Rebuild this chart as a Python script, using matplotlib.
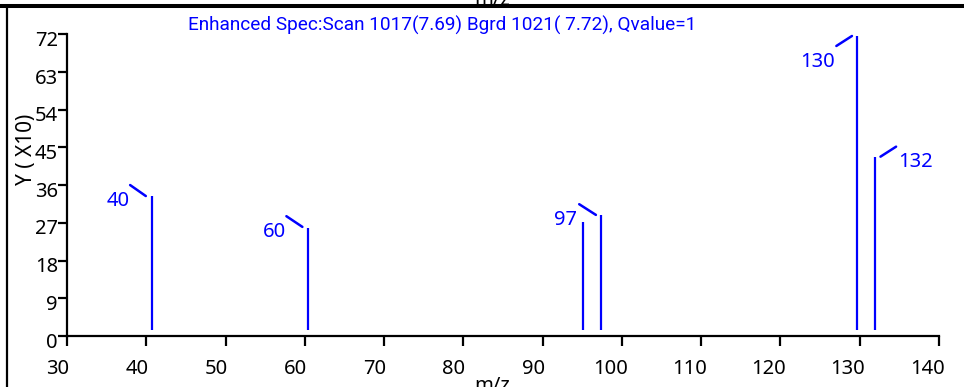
import matplotlib
matplotlib.use('Agg')
import matplotlib.pyplot as plt
import matplotlib.transforms as mtransforms
from matplotlib.lines import Line2D

# ---- data ----
mz = [40.7, 60.4, 95.1, 97.3, 129.7, 131.9]
intensity = [33.4, 25.8, 27.3, 28.9, 71.6, 42.8]
floor_level = 1.4
label_mz = [40.7, 60.4, 97.3, 129.7, 131.9]
label_int = [33.4, 25.8, 28.9, 71.6, 42.8]
label_text = ['40', '60', '97', '130', '132']
xticks = [30, 40, 50, 60, 70, 80, 90, 100, 110, 120, 130, 140]
yticks = [0, 9, 18, 27, 36, 45, 54, 63, 72]
title_text = "Enhanced Spec:Scan 1017(7.69) Bgrd 1021( 7.72), Qvalue=1"
ylabel_text = "Y ( X10)"
xlabel_text = "m/z"

# ---- style ----
BLUE = '#0000ff'
FS = 14.5
TICKFONT = 'Noto Sans'
TITLEFONT = 'Roboto'
# leader start, leader end, text position (pixel offsets from peak top, y up), alignment
label_style = [
    ((-6, 0), (-21.7, 11), (-22.5, -10), 'right'),
    ((-5.6, 1), (-21.6, 11.7), (-22.3, -9.6), 'right'),
    ((-4.6, 0), (-21.3, 10.7), (-23.3, -10), 'right'),
    ((-5.4, 0), (-21, -10), (-22.7, -31), 'right'),
    ((5.7, 0), (21.3, 10), (23, -10.6), 'left'),
]

W, H = 964, 387
fig = plt.figure(figsize=(W / 100, H / 100), dpi=100)
ax = fig.add_axes([67 / W, 51 / H, 872 / W, 301.7 / H])

ax.vlines(mz, floor_level, intensity, colors=BLUE, lw=1.6)

ax.set_xlim(30, 140)
ax.set_ylim(0, 72)
ax.set_xticks(xticks)
ax.set_yticks(yticks)
ax.set_xticklabels([str(v) for v in xticks], family=TICKFONT, fontsize=FS)
ax.set_yticklabels([str(v) for v in yticks], family=TICKFONT, fontsize=FS)
for s in ['top', 'right']:
    ax.spines[s].set_visible(False)
for s in ['left', 'bottom']:
    ax.spines[s].set_linewidth(1.6)
    ax.spines[s].set_color('black')
ax.tick_params(axis='x', direction='out', length=7.5, width=1.6, pad=9, colors='black')
ax.tick_params(axis='y', direction='out', length=6.5, width=1.6, pad=0, colors='black')

for lab in ax.get_xticklabels():
    dx = -9.5 if len(lab.get_text()) == 2 else -11.7
    lab.set_transform(lab.get_transform() + mtransforms.ScaledTranslation(dx / 100, 0, fig.dpi_scale_trans))
for lab in ax.get_yticklabels():
    lab.set_transform(lab.get_transform() + mtransforms.ScaledTranslation(0, -4 / 100, fig.dpi_scale_trans))

# peak labels with leader lines
for x, y, t, (st, en, tp, ha) in zip(label_mz, label_int, label_text, label_style):
    tr = mtransforms.offset_copy(ax.transData, fig=fig, x=st[0], y=st[1], units='dots')
    ax.annotate('', xy=(x, y), xycoords=tr, xytext=(en[0] - st[0], en[1] - st[1]),
                textcoords='offset pixels',
                arrowprops=dict(arrowstyle='-', color=BLUE, lw=1.8, shrinkA=0, shrinkB=0))
    ax.annotate(t, xy=(x, y), xytext=tp, textcoords='offset pixels', ha=ha, va='baseline',
                color=BLUE, fontsize=FS, family=TICKFONT)

# title and axis labels
fig.text(442.5 / W, (H - 30.7) / H, title_text, ha='center', va='baseline', color=BLUE,
         fontsize=13.7, family=TITLEFONT)
fig.text(26.5 / W, (H - 149) / H, ylabel_text, rotation=90, ha='center', va='center',
         color='black', fontsize=15, family=TICKFONT)
fig.text(492 / W, (H - 390.6) / H, xlabel_text, ha='center', va='baseline', color='black',
         fontsize=FS, family=TICKFONT)
fig.text(492 / W, (H - 5) / H, xlabel_text, ha='center', va='baseline', color='black',
         fontsize=FS, family=TICKFONT)

# outer frame lines
fig.add_artist(Line2D([0, 1], [(H - 6) / H, (H - 6) / H], transform=fig.transFigure,
                      color='black', lw=2.9))
fig.add_artist(Line2D([7 / W, 7 / W], [0, (H - 6) / H], transform=fig.transFigure,
                      color='black', lw=1.6))

fig.savefig('out.png', dpi=100)
